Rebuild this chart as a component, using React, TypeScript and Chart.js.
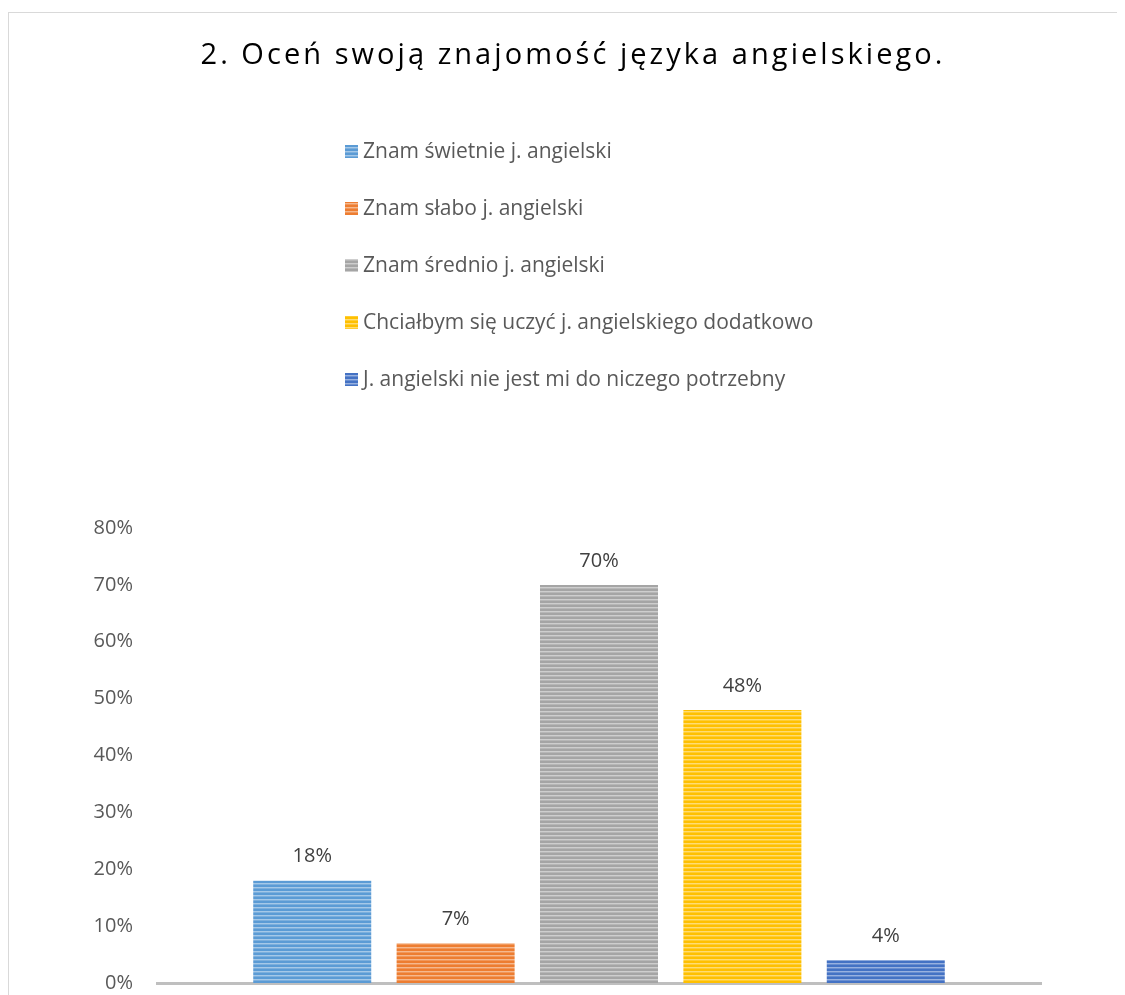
import React, { useEffect, useRef } from "react";
import { Chart, registerables } from "chart.js";

Chart.register(...registerables);

const titleText = "2. Oceń swoją znajomość języka angielskiego.";
const categories = [""];
const seriesLabels = [
  "Znam świetnie j. angielski",
  "Znam słabo j. angielski",
  "Znam średnio j. angielski",
  "Chciałbym się uczyć j. angielskiego dodatkowo",
  "J. angielski nie jest mi do niczego potrzebny",
];
const seriesValues = [18, 7, 70, 48, 4];
const seriesColors = ["#5B9BD5", "#ED7D31", "#A5A5A5", "#FFC000", "#4472C4"];
const yMax = 80;
const yStep = 10;

const FONT = "'Open Sans', 'DejaVu Sans', sans-serif";

function mix(hex: string, amt: number) {
  const n = parseInt(hex.slice(1), 16);
  const r = (n >> 16) & 255, g = (n >> 8) & 255, b = n & 255;
  const m = (c: number) => Math.round(c + (255 - c) * amt);
  return `rgb(${m(r)},${m(g)},${m(b)})`;
}

function makeStripes(color: string): CanvasPattern | string {
  const c = document.createElement("canvas");
  c.width = 8;
  c.height = 4;
  const ctx = c.getContext("2d");
  if (!ctx) return color;
  ctx.fillStyle = color;
  ctx.fillRect(0, 0, 8, 4);
  ctx.fillStyle = mix(color, 0.45);
  ctx.fillRect(0, 2, 8, 1);
  ctx.fillStyle = mix(color, 0.2);
  ctx.fillRect(0, 3, 8, 1);
  const p = ctx.createPattern(c, "repeat");
  return p || color;
}

const titleLegendPlugin = {
  id: "titleLegend",
  afterDraw(chart: any) {
    const ctx = chart.ctx as CanvasRenderingContext2D;
    ctx.save();
    ctx.font = `29px ${FONT}`;
    ctx.fillStyle = "#000000";
    ctx.textBaseline = "middle";
    ctx.textAlign = "left";
    const targetW = 745;
    (ctx as any).letterSpacing = "0px";
    const w0 = ctx.measureText(titleText).width;
    const sp = Math.max(0, (targetW - w0) / titleText.length);
    (ctx as any).letterSpacing = `${sp}px`;
    ctx.fillText(titleText, 564 - targetW / 2, 43);
    (ctx as any).letterSpacing = "0px";
    ctx.font = `21px ${FONT}`;
    chart.data.datasets.forEach((ds: any, i: number) => {
      const cy = 139 + i * 57;
      ctx.fillStyle = ds.backgroundColor;
      ctx.fillRect(336, cy - 7, 13, 13);
      ctx.fillStyle = "#595959";
      ctx.fillText(ds.label, 354, cy);
    });
    ctx.restore();
  },
};

const dataLabelPlugin = {
  id: "dataLabels",
  afterDatasetsDraw(chart: any) {
    const ctx = chart.ctx as CanvasRenderingContext2D;
    ctx.save();
    ctx.font = `20px ${FONT}`;
    ctx.fillStyle = "#404040";
    ctx.textAlign = "center";
    ctx.textBaseline = "middle";
    chart.data.datasets.forEach((ds: any, i: number) => {
      const meta = chart.getDatasetMeta(i);
      meta.data.forEach((bar: any, j: number) => {
        ctx.fillText(`${ds.data[j]}%`, bar.x, bar.y - 24);
      });
    });
    ctx.restore();
  },
};

export default function App() {
  const ref = useRef<HTMLCanvasElement | null>(null);
  useEffect(() => {
    document.documentElement.style.overflow = "hidden";
    document.body.style.overflow = "hidden";
    if (!ref.current) return;
    const chart = new Chart(ref.current, {
      type: "bar",
      data: {
        labels: categories,
        datasets: seriesLabels.map((label, i) => ({
          label,
          data: [seriesValues[i]],
          backgroundColor: makeStripes(seriesColors[i]) as any,
          borderWidth: 0,
          categoryPercentage: 0.811,
          barPercentage: 0.823,
        })),
      },
      options: {
        responsive: false,
        animation: false,
        devicePixelRatio: 1,
        layout: { padding: { top: 515, left: 0, right: 76, bottom: 12 } },
        plugins: {
          legend: { display: false },
          title: { display: false },
          tooltip: { enabled: false },
        },
        scales: {
          x: {
            grid: { display: false, drawTicks: false },
            border: { display: true, color: "#BFBFBF", width: 3 },
            ticks: { display: false },
            afterFit: (s: any) => {
              s.height = 0;
            },
          },
          y: {
            min: 0,
            max: yMax,
            grid: { display: false, drawTicks: true, tickLength: 24 },
            border: { display: false },
            ticks: {
              stepSize: yStep,
              padding: 0,
              color: "#595959",
              font: { family: FONT, size: 20 },
              callback: (v: any) => `${v}%`,
            },
            afterFit: (s: any) => {
              s.width = 148;
              s.paddingTop = 0;
              s.paddingBottom = 0;
            },
          },
        },
      },
      plugins: [titleLegendPlugin, dataLabelPlugin],
    });
    return () => chart.destroy();
  }, []);

  return (
    <div style={{ paddingTop: 4 }}>
      <div
        style={{
          width: 1109,
          height: 983,
          boxSizing: "border-box",
          borderTop: "1px solid #D9D9D9",
          borderLeft: "1px solid #D9D9D9",
          background: "#fff",
          overflow: "hidden",
        }}
      >
        <canvas ref={ref} width={1108} height={982} style={{ display: "block", width: 1108, height: 982 }} />
      </div>
    </div>
  );
}
